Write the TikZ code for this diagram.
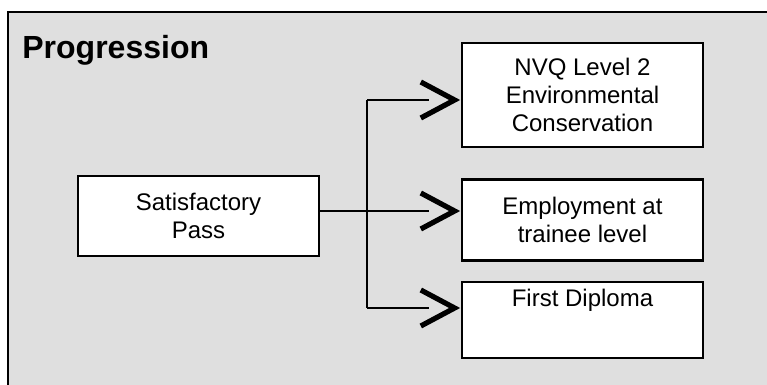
\documentclass[tikz,border=0pt]{standalone}
\usepackage{fontspec}
\setmainfont{Liberation Sans}
\usetikzlibrary{positioning}

\begin{document}
\begin{tikzpicture}[
    x=0.5pt, y=-0.5pt,
    panel/.style={fill=gray!25},
    frame/.style={line width=1pt},
    box/.style={rectangle, draw=black, fill=white, line width=1.2pt, minimum width=120.5pt, align=center, inner sep=2pt, font=\fontsize{12}{14}\selectfont},
    heading/.style={anchor=base west, inner sep=0pt, font=\fontsize{16}{19}\selectfont\bfseries},
    link/.style={line width=1pt},
    chevron/.style={line width=2.6pt, miter limit=10}
]
    \useasboundingbox (0,0) rectangle (767,385);

    % Panel
    \fill[panel] (8,12) rectangle (767,385);
    \draw[frame] (8,385) |- (767,12);
    \node[heading] (title) at (22,59) {Progression};

    % Boxes
    \node[box, minimum height=40pt] (pass) at (198.5,216) {Satisfactory\\Pass};
    \node[box, minimum height=52pt] (nvq) at (582.5,95) {NVQ Level 2\\Environmental\\Conservation};
    \node[box, minimum height=40.5pt, below=15pt of nvq] (employ) {Employment at\\trainee level};
    \node[box, minimum height=38pt, text height=10.5pt, text depth=23.5pt, below=9.5pt of employ] (diploma) {First Diploma};

    % Connectors
    \coordinate (split) at (367,211);
    \coordinate (tipA) at (nvq.west |- 0,100);
    \coordinate (tipB) at (employ.west |- split);
    \coordinate (tipC) at (diploma.west |- 0,308);
    \draw[link] (pass.east |- split) -- (split);
    \draw[link] (split |- tipA) -- (split |- tipC);
    \foreach \t in {tipA,tipB,tipC}{
        \draw[link] (split |- \t) -- ([xshift=-16pt]\t);
        \draw[chevron] ([shift={(-20pt,9pt)}]\t) -- ([xshift=-3.1pt]\t) -- ([shift={(-20pt,-9pt)}]\t);
    }
\end{tikzpicture}
\end{document}
